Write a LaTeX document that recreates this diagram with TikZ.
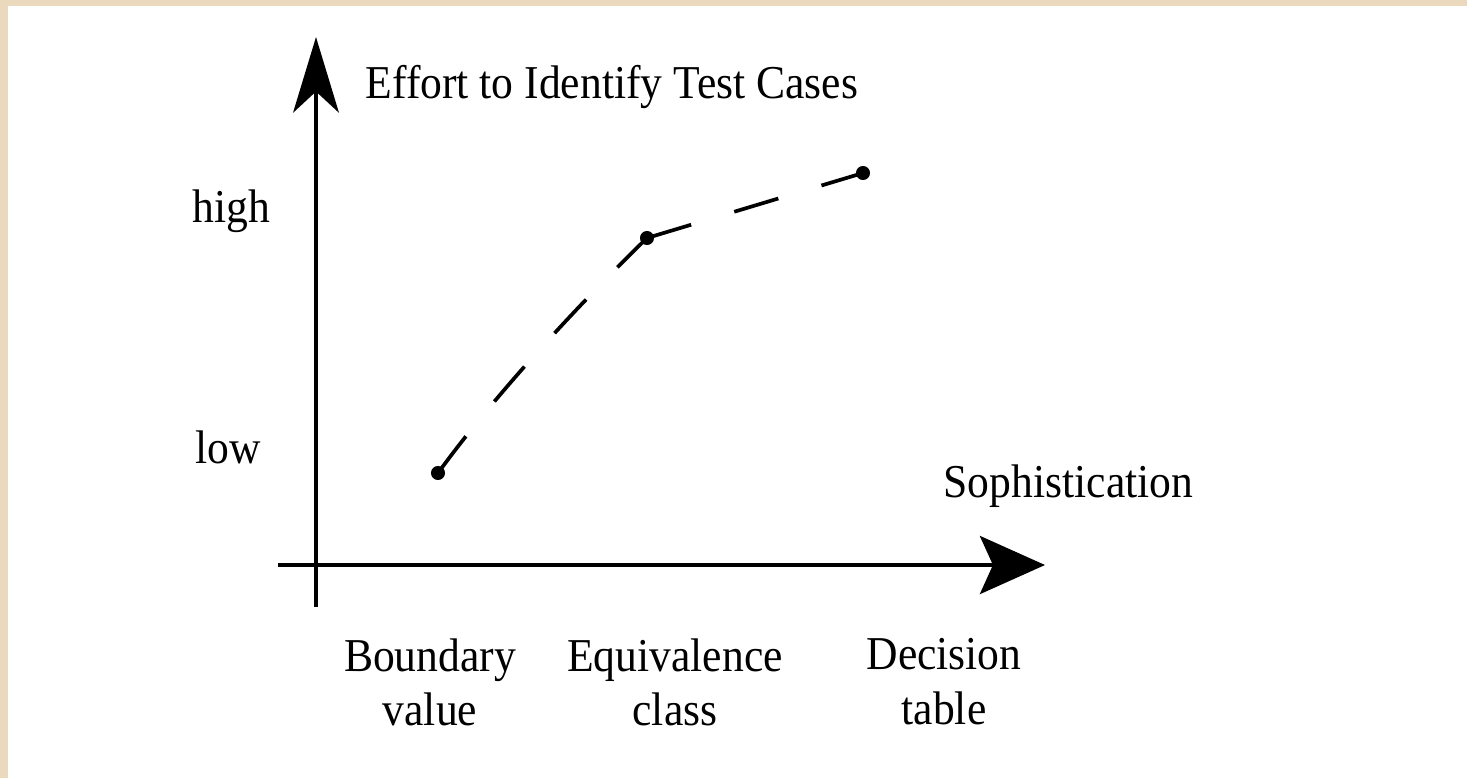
\documentclass[tikz,border=0pt]{standalone}
\usepackage{fontspec}
\setmainfont{Liberation Serif}[FakeStretch=0.925]
\usetikzlibrary{positioning, arrows.meta}

\definecolor{paper}{RGB}{235,217,189}

\begin{document}
\begin{tikzpicture}[x=0.01cm, y=-0.01cm,
                    every node/.style={font=\fontsize{13.4}{15.4}\selectfont, inner sep=0pt},
                    axis/.style={line width=1.15pt},
                    dot/.style={circle, fill, minimum size=4pt},
                    effort/.style={line width=1.05pt, dash pattern=on 13.1pt off 12.8pt}]
                        % page and frame
                        \fill[paper] (0,0) rectangle (1467,778);
                        \fill[white] (8,6) rectangle (1467,778);
                        \useasboundingbox (0,0) rectangle (1467,778);

                        % axes
                        \coordinate (ybot) at (316,607);
                        \coordinate (ytop) at (316,37);
                        \coordinate (xleft) at (278,565);
                        \coordinate (xright) at (1045,565);
                        \draw[axis, -{Stealth[length=21.5pt, width=13pt, inset=6pt]}] (ybot) -- (ytop);
                        \draw[axis, -{Stealth[length=18.5pt, width=16.5pt, inset=3.7pt]}] (xleft) -- (xright);

                        \node[anchor=base west] (effortlabel) at (365,98) {Effort to Identify Test Cases};
                        \node[anchor=base west] (soph) at (943,497) {Sophistication};
                        \node[anchor=base west] (high) at (192,222) {high};
                        \node[anchor=base west] (low) at (195,463) {low};

                        % techniques
                        \node[dot] (bv) at (438,473) {};
                        \node[dot] (ec) at (647,238) {};
                        \node[dot] (dt) at (863,173) {};
                        \node[align=center, anchor=north] (bvlabel) at (430,638) {Boundary\\value};
                        \node[align=center, anchor=north] (eclabel) at (675,638) {Equivalence\\class};
                        \node[align=center, anchor=north] (dtlabel) at (944,638) {Decision\\table};

                        \draw[effort] (bv.center) .. controls (494,396) and (579,304) .. (ec.center);
                        \draw[effort] (ec.center) -- (dt.center);
                    \end{tikzpicture}
\end{document}
